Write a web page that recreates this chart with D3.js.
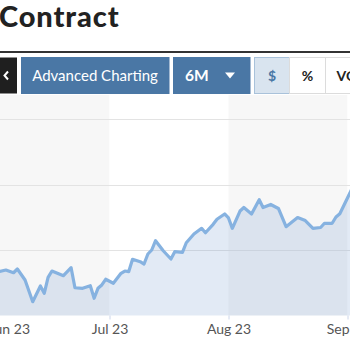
<!DOCTYPE html>
<html><head><meta charset="utf-8">
<script src="https://cdn.jsdelivr.net/npm/d3@7"></script>
<style>html,body{margin:0;padding:0;background:#fff;overflow:hidden}</style>
</head><body>
<svg id="c" width="350" height="350"></svg>
<script>
const title = "Contract";
const buttons = ["Advanced Charting", "6M", "$", "%", "VOL"];
const dates = ["2023-06-01","2023-06-02","2023-06-04","2023-06-06","2023-06-07","2023-06-09","2023-06-11","2023-06-13","2023-06-14","2023-06-15","2023-06-16","2023-06-19","2023-06-21","2023-06-22","2023-06-24","2023-06-26","2023-06-27","2023-06-28","2023-06-29","2023-06-30",
"2023-07-02","2023-07-04","2023-07-05","2023-07-06","2023-07-07","2023-07-09","2023-07-10","2023-07-11","2023-07-12","2023-07-13","2023-07-15","2023-07-17","2023-07-18","2023-07-20","2023-07-21","2023-07-23","2023-07-25","2023-07-26","2023-07-28","2023-07-29","2023-07-31",
"2023-08-01","2023-08-02","2023-08-04","2023-08-05","2023-08-07","2023-08-09","2023-08-10","2023-08-12","2023-08-14","2023-08-16","2023-08-19","2023-08-21","2023-08-23","2023-08-25","2023-08-26","2023-08-28","2023-08-29","2023-08-30","2023-09-02","2023-09-03"];
const prices = [66.64,66.69,66.95,66.53,67.10,65.42,62.11,64.50,63.39,65.83,66.79,66.08,67.30,64.24,64.15,64.55,62.63,64.15,64.66,65.53,
64.92,66.44,66.79,66.69,68.58,68.21,67.86,69.39,70.00,71.42,69.89,68.63,69.74,69.65,71.11,72.44,73.31,72.64,73.92,74.69,75.50,
74.89,73.31,75.95,76.49,75.50,77.68,76.49,76.95,76.34,73.56,74.96,74.50,73.31,73.44,74.08,74.08,75.04,75.53,79.16,80.38];
const gridValues = [70, 80, 90];
const monthTicks = ["2023-06-01","2023-07-01","2023-08-01","2023-09-01","2023-10-01"];
const tickFormat = d3.timeFormat("%b %y");

const parse = d3.timeParse("%Y-%m-%d");
const data = dates.map((d,i)=>({date: parse(d), v: prices[i]}));
const svg = d3.select("#c");

// header
svg.append("text").attr("x",-1).attr("y",27).text(title)
  .attr("font-family","Lato").attr("font-weight",900).attr("font-size",29)
  .attr("letter-spacing",0.9).attr("fill","#222");
svg.append("rect").attr("x",0).attr("y",51).attr("width",350).attr("height",2).attr("fill","#333");

// buttons
const by = 57.5, bh = 36;
svg.append("rect").attr("x",-2).attr("y",by).attr("width",19).attr("height",bh).attr("fill","#1f1f1f");
svg.append("path").attr("d",`M8,${by+14} L4.5,${by+18} L8,${by+22}`).attr("stroke","#fff").attr("stroke-width",2).attr("fill","none");
const btn = [
  {x:21.5,w:147.5,fill:"#4a77a5",stroke:"#4a77a5",color:"#fff",weight:400,size:15,label:buttons[0],tx:95},
  {x:173.5,w:76.5,fill:"#4a77a5",stroke:"#4a77a5",color:"#fff",weight:700,size:15.5,label:buttons[1],tx:185,anchor:"start"},
  {x:254.5,w:35,fill:"#d9e4ef",stroke:"#a9c2da",color:"#4a77a5",weight:700,size:14,label:buttons[2],tx:272},
  {x:289.5,w:36,fill:"#fff",stroke:"#dcdcdc",color:"#222",weight:700,size:14,label:buttons[3],tx:307.5},
  {x:325.5,w:40,fill:"#fff",stroke:"#dcdcdc",color:"#222",weight:700,size:14,label:buttons[4],tx:336.5,anchor:"start"}
];
btn.forEach(b=>{
  svg.append("rect").attr("x",b.x).attr("y",by).attr("width",b.w).attr("height",bh)
    .attr("fill",b.fill).attr("stroke",b.stroke).attr("stroke-width",1);
  svg.append("text").attr("x",b.tx).attr("y",by+bh/2+5.5).text(b.label)
    .attr("text-anchor",b.anchor||"middle").attr("font-family","Lato")
    .attr("font-weight",b.weight).attr("font-size",b.size).attr("fill",b.color);
});
svg.append("path").attr("d",`M225,${by+15} L235,${by+15} L230,${by+21} Z`).attr("fill","#fff");

// chart
const plotTop = 95, plotBottom = 315.5;
const x = d3.scaleTime().domain([parse("2023-07-01"), parse("2023-09-01")]).range([109.5, 347.5]);
const y = d3.scaleLinear().domain([60, 90]).range([plotBottom, 119]);
const g = svg.append("g");

// month bands
for (let i=0;i<monthTicks.length-1;i++){
  const x0 = x(parse(monthTicks[i])), x1 = x(parse(monthTicks[i+1]));
  g.append("rect").attr("x",x0).attr("y",plotTop).attr("width",x1-x0).attr("height",plotBottom-plotTop)
    .attr("fill", i%2===0 ? "#f7f7f7" : "#ffffff");
}
// grid
g.selectAll("line.grid").data(gridValues).join("line")
  .attr("x1",-10).attr("x2",360).attr("y1",d=>Math.round(y(d))+0.5).attr("y2",d=>Math.round(y(d))+0.5)
  .attr("stroke","#e3e3e3").attr("stroke-width",1);

// area + line
const area = d3.area().x(d=>x(d.date)).y0(plotBottom).y1(d=>y(d.v));
const line = d3.line().x(d=>x(d.date)).y(d=>y(d.v));
g.append("path").datum(data).attr("d",area).attr("fill","#6f98cc").attr("fill-opacity",0.2);
g.append("path").datum(data).attr("d",line).attr("fill","none").attr("stroke","#86b2e0")
  .attr("stroke-width",3.2).attr("stroke-linejoin","round");

// x axis
const ax = d3.axisBottom(x).tickValues(monthTicks.map(parse)).tickFormat(tickFormat).tickSize(4).tickPadding(5);
const axg = svg.append("g").attr("transform",`translate(0,${plotBottom})`).call(ax);
axg.select(".domain").remove();
axg.selectAll(".tick line").attr("stroke","#ccd6eb");
axg.selectAll(".tick text").attr("font-family","Lato").attr("font-size",14).attr("fill","#555");
// justify the first label to the plot edge (as the source does)
axg.selectAll(".tick").filter((d,i)=>i===0).select("text").attr("text-anchor","start").attr("x",-6);
</script>
</body></html>
